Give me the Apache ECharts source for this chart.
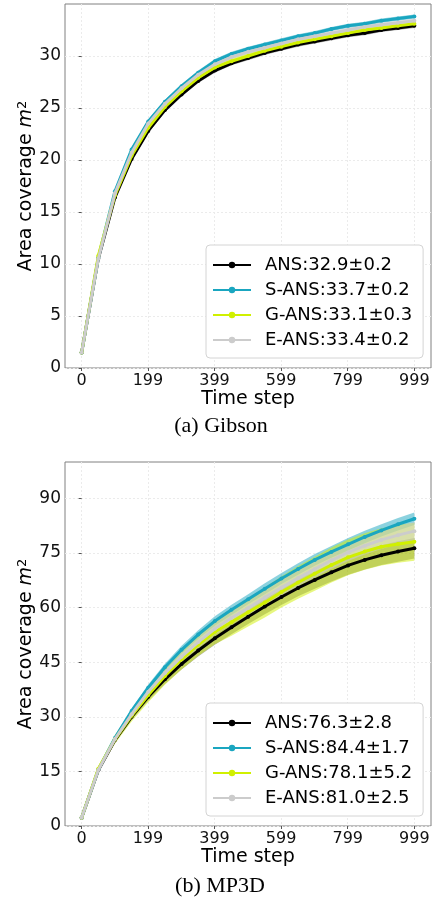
<!DOCTYPE html>
<html><head><meta charset="utf-8">
<script src="https://cdn.jsdelivr.net/npm/echarts@6/dist/echarts.min.js"></script>
<style>html,body{margin:0;padding:0;background:#fff}#c{width:433px;height:898px}</style>
</head><body><div id="c"></div>
<script>
const steps = [0,50,100,150,200,250,300,350,400,450,500,550,600,650,700,750,800,850,900,950,999];
const xTicks = [0,199,399,599,799,999];
const gibYTicks = [0,5,10,15,20,25,30];
const mpYTicks = [0,15,30,45,60,75,90];

const gibNames = ['ANS:32.9±0.2','S-ANS:33.7±0.2','G-ANS:33.1±0.3','E-ANS:33.4±0.2'];
const gibANS  = [1.5,10.5,16.4,20.1,22.8,24.8,26.3,27.6,28.6,29.3,29.8,30.3,30.7,31.1,31.4,31.7,32.0,32.2,32.5,32.7,32.9];
const gibSANS = [1.5,10.6,17.0,21.0,23.7,25.6,27.1,28.4,29.5,30.2,30.7,31.1,31.5,31.9,32.2,32.6,32.9,33.1,33.4,33.6,33.8];
const gibGANS = [1.5,10.8,16.6,20.4,23.1,25.1,26.6,27.9,28.9,29.5,30.0,30.5,30.9,31.3,31.6,31.9,32.2,32.5,32.7,32.9,33.1];
const gibEANS = [1.5,10.5,16.8,20.7,23.5,25.4,26.9,28.2,29.2,29.9,30.4,30.8,31.2,31.6,31.9,32.2,32.5,32.8,33.0,33.2,33.4];
const gibANSStd  = [0.1,0.2,0.2,0.2,0.2,0.2,0.2,0.2,0.2,0.2,0.2,0.2,0.2,0.2,0.2,0.2,0.2,0.2,0.2,0.2,0.2];
const gibSANSStd = [0.1,0.2,0.2,0.2,0.2,0.2,0.2,0.2,0.2,0.2,0.2,0.2,0.2,0.2,0.2,0.2,0.2,0.2,0.2,0.2,0.2];
const gibGANSStd = [0.1,0.2,0.3,0.3,0.3,0.3,0.3,0.3,0.3,0.3,0.3,0.3,0.3,0.3,0.3,0.3,0.3,0.3,0.3,0.3,0.3];
const gibEANSStd = [0.1,0.2,0.2,0.2,0.2,0.2,0.2,0.2,0.2,0.2,0.2,0.2,0.2,0.2,0.2,0.2,0.2,0.2,0.2,0.2,0.2];

const mpNames = ['ANS:76.3±2.8','S-ANS:84.4±1.7','G-ANS:78.1±5.2','E-ANS:81.0±2.5'];
const mpANS  = [2.3,15.3,23.6,30.0,35.5,40.3,44.5,48.2,51.6,54.6,57.5,60.3,62.9,65.4,67.6,69.7,71.6,73.1,74.4,75.4,76.3];
const mpSANS = [2.3,15.5,24.2,31.6,38.0,43.6,48.4,52.6,56.3,59.4,62.3,65.2,68.0,70.6,73.1,75.3,77.4,79.4,81.2,82.9,84.4];
const mpGANS = [2.3,15.7,23.8,30.3,36.0,41.2,45.8,49.8,53.3,56.0,58.7,61.4,64.3,66.9,69.3,71.7,73.8,75.4,76.7,77.5,78.1];
const mpEANS = [2.3,15.4,23.9,30.7,36.9,42.0,46.5,50.5,54.2,57.2,59.9,62.8,65.5,68.1,70.6,73.0,75.2,77.0,78.6,79.9,81.0];
const mpANSStd  = [0,0.4,0.7,0.9,1.1,1.3,1.5,1.6,1.8,1.9,2.0,2.1,2.2,2.3,2.4,2.5,2.6,2.6,2.7,2.8,2.8];
const mpSANSStd = [0,0.3,0.5,0.7,0.9,1.0,1.1,1.2,1.3,1.4,1.4,1.5,1.5,1.6,1.6,1.6,1.7,1.7,1.7,1.7,1.7];
const mpGANSStd = [0,0.7,1.2,1.6,2.0,2.4,2.8,3.1,3.4,3.7,3.9,4.1,4.3,4.5,4.7,4.8,4.9,5.0,5.1,5.2,5.2];
const mpEANSStd = [0,0.3,0.6,0.8,1.0,1.2,1.4,1.5,1.7,1.8,1.9,2.0,2.1,2.2,2.3,2.3,2.4,2.4,2.5,2.5,2.5];

const lineColors = ['#000000','#1aa6c0','#d0f000','#cccccc'];
const bandColors = ['rgba(0,0,0,0.3)','rgba(26,166,192,0.5)','rgba(208,240,0,0.5)','rgba(204,204,204,0.55)'];

const FONT = 'DejaVu Sans';

function band(gi, mean, std, color) {
  return {
    type: 'custom', xAxisIndex: gi, yAxisIndex: gi, silent: true, z: 1,
    data: steps.map((t, i) => [t, mean[i] - std[i], mean[i] + std[i]]),
    encode: { x: 0, y: [1, 2] },
    renderItem: function (params, api) {
      if (params.dataIndex !== 0) return null;
      const pts = [];
      for (let i = 0; i < steps.length; i++) pts.push(api.coord([steps[i], mean[i] + std[i]]));
      for (let i = steps.length - 1; i >= 0; i--) pts.push(api.coord([steps[i], mean[i] - std[i]]));
      return { type: 'polygon', shape: { points: pts }, style: { fill: color } };
    }
  };
}
function line(gi, name, mean, color, k) {
  return {
    type: 'line', name: name, xAxisIndex: gi, yAxisIndex: gi, z: 3 + k,
    data: steps.map((t, i) => [t, mean[i]]),
    symbol: 'circle', symbolSize: 4, showSymbol: true,
    lineStyle: { width: 3, color: color }, itemStyle: { color: color },
    emphasis: { disabled: true }
  };
}

const gibMeans = [gibANS, gibSANS, gibGANS, gibEANS];
const gibStds = [gibANSStd, gibSANSStd, gibGANSStd, gibEANSStd];
const mpMeans = [mpANS, mpSANS, mpGANS, mpEANS];
const mpStds = [mpANSStd, mpSANSStd, mpGANSStd, mpEANSStd];

const series = [];
[0,1,2,3].forEach(k => series.push(band(0, gibMeans[k], gibStds[k], bandColors[k])));
[0,1,2,3].forEach(k => series.push(line(0, gibNames[k], gibMeans[k], lineColors[k], k)));
[0,1,2,3].forEach(k => series.push(band(1, mpMeans[k], mpStds[k], bandColors[k])));
[0,1,2,3].forEach(k => series.push(line(1, mpNames[k], mpMeans[k], lineColors[k], k)));

function xAxis(gi) {
  return {
    gridIndex: gi, type: 'value', min: -50, max: 1049,
    name: 'Time step', nameLocation: 'middle', nameGap: 22, nameMoveOverlap: false,
    nameTextStyle: { fontFamily: FONT, fontSize: 19, color: '#000' },
    axisLine: { show: false },
    axisTick: { show: true, length: 3, customValues: xTicks, lineStyle: { color: '#555' } },
    axisLabel: { customValues: xTicks, margin: 5, fontFamily: FONT, fontSize: 16, color: '#111' },
    splitLine: { show: true, lineStyle: { color: '#ebebeb', type: [2, 2], width: 1 } }
  };
}
function yAxis(gi, max, ticks) {
  return {
    gridIndex: gi, type: 'value', min: 0, max: max,
    name: 'Area coverage {i|m}{s|2}', nameLocation: 'middle', nameGap: 28, nameMoveOverlap: false,
    nameTextStyle: { fontFamily: FONT, fontSize: 19, color: '#000',
      rich: { i: { fontFamily: FONT, fontSize: 19, fontStyle: 'italic', color: '#000' },
              s: { fontFamily: FONT, fontSize: 13, color: '#000', verticalAlign: 'top', padding: [0,0,8,0] } } },
    axisLine: { show: false },
    axisTick: { show: true, length: 3, customValues: ticks, lineStyle: { color: '#555' } },
    axisLabel: { customValues: ticks, margin: 4, fontFamily: FONT, fontSize: 17, color: '#111' },
    splitLine: { show: true, lineStyle: { color: '#ebebeb', type: [2, 2], width: 1 } }
  };
}
function legend(names, top) {
  return {
    data: names, orient: 'vertical', left: 206, top: top,
    itemWidth: 38, itemHeight: 8, itemGap: 5,
    padding: [10, 11, 8, 6],
    backgroundColor: '#fff', borderColor: '#d4d4d4', borderWidth: 1, borderRadius: 4,
    textStyle: { fontFamily: FONT, fontSize: 18, color: '#000', lineHeight: 20, padding: [0,0,0,9] },
    selectedMode: false
  };
}

const chart = echarts.init(document.getElementById('c'), null, { renderer: 'canvas' });
chart.setOption({
  animation: false,
  backgroundColor: '#fff',
  grid: [
    { left: 65, top: 4, width: 366, height: 364, show: true, borderColor: '#808080', borderWidth: 1, backgroundColor: 'transparent' },
    { left: 65, top: 462, width: 366, height: 364, show: true, borderColor: '#808080', borderWidth: 1, backgroundColor: 'transparent' }
  ],
  xAxis: [xAxis(0), xAxis(1)],
  yAxis: [yAxis(0, 35, gibYTicks), yAxis(1, 100, mpYTicks)],
  legend: [legend(gibNames, 245), legend(mpNames, 703)],
  graphic: [
    { type: 'text', x: 221, y: 426, style: { text: '(a) Gibson', font: '22px "Liberation Serif"', fill: '#000', textAlign: 'center', textVerticalAlign: 'middle' } },
    { type: 'text', x: 220, y: 886, style: { text: '(b) MP3D', font: '22px "Liberation Serif"', fill: '#000', textAlign: 'center', textVerticalAlign: 'middle' } }
  ],
  series: series
});
</script>
</body></html>
